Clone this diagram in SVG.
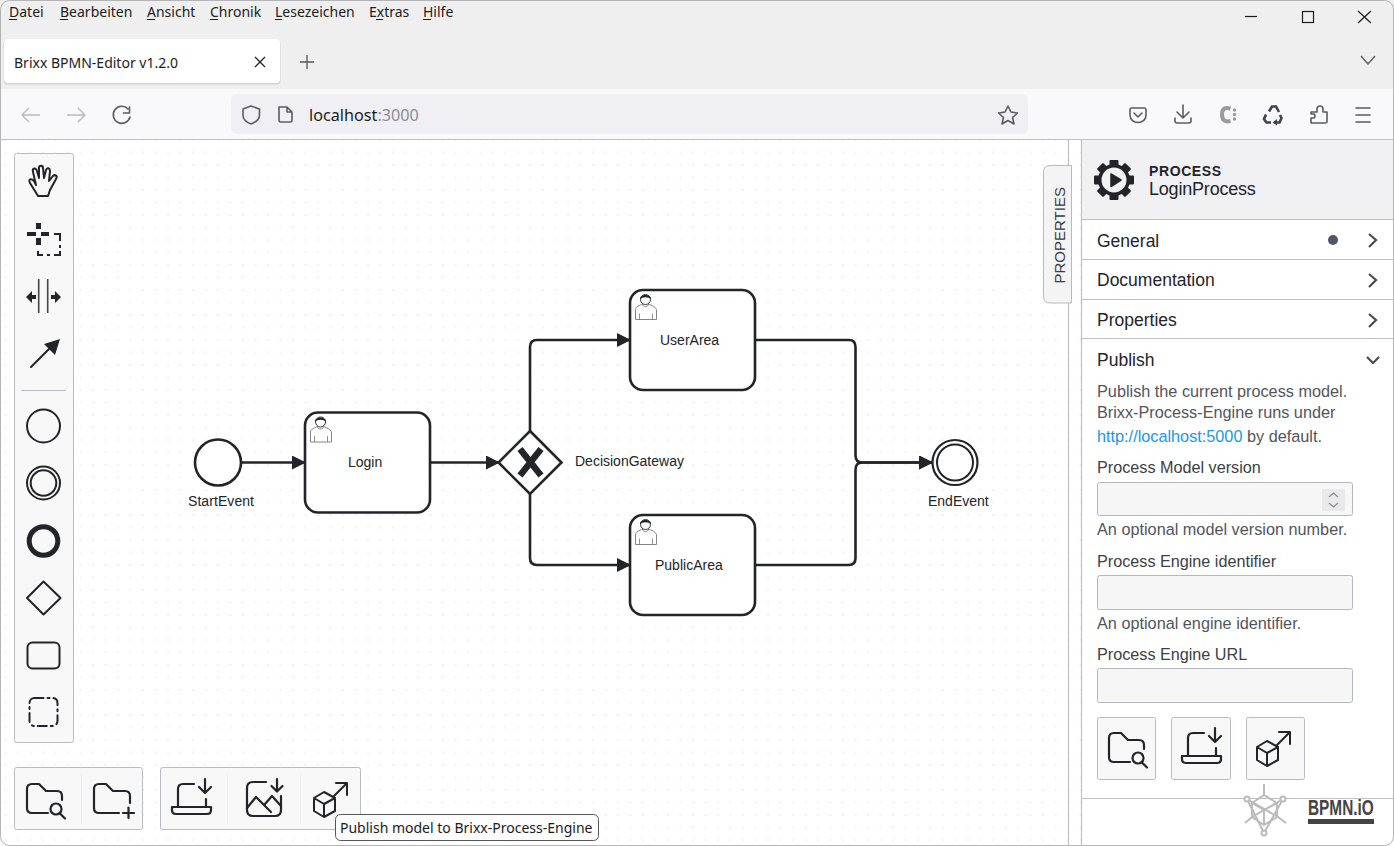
<svg xmlns="http://www.w3.org/2000/svg" width="1394" height="846" viewBox="0 0 1394 846">
<style>
text{font-family:"Liberation Sans",Arial,sans-serif;fill:#22242a}
.menu{font-family:"Noto Sans","Open Sans",sans-serif;font-size:14px;fill:#1c1c1c}
.lbl{font-size:14px;fill:#22242a}
.head{font-size:17.500px;fill:#22242a}
.desc{font-size:16.250px;fill:#52555c}
.field{font-size:16.200px;fill:#3e4047}
.inp{fill:#f6f6f7;stroke:#b5b7bf;stroke-width:1}
.ln{fill:none;stroke:#22242a;stroke-width:2;stroke-linejoin:round;stroke-linecap:round}
.ic{fill:none;stroke:#22242a;stroke-width:2.200;stroke-linejoin:round;stroke-linecap:round}
.br{fill:none;stroke:#5b5b66;stroke-width:1.600;stroke-linejoin:round;stroke-linecap:round}
.flow{fill:none;stroke:#22242a;stroke-width:2.600;stroke-linejoin:round}
.shape{fill:#fff;stroke:#22242a;stroke-width:2.600}
.user{fill:#fff;stroke:#777;stroke-width:.9}
.sep{stroke:#ececee;stroke-width:1}
.pal{fill:#f8f8f9;stroke:#b9bbc2;stroke-width:1}
.rule{stroke:#bfc0c6;stroke-width:1.200}
.logo{fill:none;stroke:#bbb;stroke-width:2;stroke-linejoin:round}
</style>
<defs>
<pattern id="dots" x="4.500" y="1.500" width="12.500" height="12.500" patternUnits="userSpaceOnUse"><circle cx="1" cy="1" r=".75" fill="#d9dade"/></pattern>
<marker id="arrow" markerUnits="userSpaceOnUse" viewBox="0 0 14 14" refX="13" refY="7" markerWidth="14" markerHeight="14" orient="auto"><path d="M0 0L14 7L0 14Z" fill="#22242a"/></marker>
<g id="u"><path class="user" d="M-10 18V8C-10 5-6 4-3 2.500C-3 6 3 6 3 2.500C6 4 10 5 11 8V18Z"/><path d="M-6 18V12M7 18V12" stroke="#777" stroke-width=".8"/><circle cx="0" cy="-2" r="5" fill="#fff" stroke="#333"/><path d="M-5.500 -2C-6-8 6-8 5.500-2C3-5-3-5-5.500-2Z" fill="#22242a"/></g>
<g id="foldersearch"><path class="ic" d="M21 29H5Q0 29 0 24V5Q0 0 5 0H12L19 7H30Q35 7 35 12V16"/><circle cx="29" cy="25" r="5.500" class="ic"/><path class="ic" d="M33 29.500L38 34.500"/></g>
<g id="laptopdown"><path class="ic" d="M6 23V5Q6 0 11 0H22M34 15V23"/><path class="ic" d="M0 23H39V26Q39 30 35 30H4Q0 30 0 26Z"/><path class="ic" d="M33 -5V9M27 3L33 9L39 3"/></g>
<g id="publish"><path class="ln" d="M-17 -1L-7 -7L4 -1V12L-7 18L-17 12ZM-17 -1L-7 5L4 -1M-7 5V18"/><path class="ln" d="M3 -3L16 -16M5 -16H16V-4"/></g>
</defs>
<rect width="1394" height="846" fill="#efeff0"/>
<rect x="1" y="89" width="1392" height="51" fill="#f9f9fb"/>
<rect x="0" y="140" width="1394" height="706" fill="#fff"/>
<rect x="1" y="140" width="1080" height="705" fill="url(#dots)"/>
<rect x="0.500" y="0.500" width="1393" height="845" rx="9" fill="none" stroke="#b4b4b6"/>
<path class="rule" d="M0 139.500H1394M1068.500 140V846M1081.500 140V846"/>
<g id="browser-menu">
<text class="menu" x="9" y="17">Datei</text><path d="M9 19.500H17" stroke="#1c1c1c"/>
<text class="menu" x="60" y="17">Bearbeiten</text><path d="M60 19.500H68" stroke="#1c1c1c"/>
<text class="menu" x="147" y="17">Ansicht</text><path d="M147 19.500H155" stroke="#1c1c1c"/>
<text class="menu" x="210" y="17">Chronik</text><path d="M210 19.500H218" stroke="#1c1c1c"/>
<text class="menu" x="275" y="17">Lesezeichen</text><path d="M275 19.500H282" stroke="#1c1c1c"/>
<text class="menu" x="369" y="17">Extras</text><path d="M376 19.500H383" stroke="#1c1c1c"/>
<text class="menu" x="423" y="17">Hilfe</text><path d="M423 19.500H431" stroke="#1c1c1c"/>
</g>
<g id="window-controls" fill="none" stroke="#1c1c1c" stroke-width="1.200"><path d="M1245 16.500H1257"/><rect x="1302.500" y="11.500" width="11" height="11"/><path d="M1358 11L1371 23M1371 11L1358 23"/><path d="M1361 56L1368 64L1375 56" stroke="#5b5b66" stroke-width="1.400"/></g>
<g id="tab"><rect x="3.500" y="39.500" width="277" height="45" rx="4" fill="#c9c9cb" opacity=".7"/><rect x="4" y="39" width="276" height="44" rx="4" fill="#fff"/>
<text class="menu" x="14" y="68">Brixx BPMN-Editor v1.2.0</text>
<path d="M255 57L265 67M265 57L255 67" stroke="#222" stroke-width="1.300" fill="none"/><path d="M300 62H314M307 55V69" stroke="#555" stroke-width="1.300"/></g>
<g id="toolbar">
<rect x="231" y="94" width="797" height="40" rx="6" fill="#f0f0f4"/>
<path d="M22 115H40M22 115L29 108M22 115L29 122M67 115H85M85 115L78 108M85 115L78 122" stroke="#b9b9bc" stroke-width="1.300" fill="none"/>
<path class="br" d="M128 109A8.500 8.500 0 1 0 130 117M129.500 107V113H123.500"/>
<path class="br" d="M251 106L259.500 109V115C259.500 120 255 122.500 251 124C247 122.500 243 120 243 115V109Z"/>
<path class="br" d="M279 107H287L292 112V120Q292 122 290 122H281Q279 122 279 120ZM287 107V112H292"/>
<text class="menu" x="309" y="121" style="font-size:16.200px">localhost<tspan style="fill:#8b8b91">:3000</tspan></text>
<path class="br" d="M1008 106L1011 112L1017.500 113L1012.500 117.500L1014 124L1008 120.500L1002 124L1003.500 117.500L998.500 113L1005 112Z"/>
<path class="br" d="M1131 108H1145Q1146 108 1146 110V115C1146 125 1130 125 1130 115V110Q1130 108 1131 108ZM1134 113L1138 117L1142 113"/>
<path class="br" d="M1183 105V118M1177 112L1183 118L1189 112M1175 118V121Q1175 123 1177 123H1189Q1191 123 1191 121V118"/>
<path d="M1230.500 108.500Q1222 106 1222 114.500Q1222 123 1230.500 121" fill="none" stroke="#9a9a9e" stroke-width="4"/><circle cx="1234.500" cy="110" r="1.700" fill="#9a9a9e"/><circle cx="1234.500" cy="114.500" r="1.700" fill="#9a9a9e"/><circle cx="1234.500" cy="119" r="1.700" fill="#9a9a9e"/>
<path d="M1269 111.500L1272 106.500L1276 106.500L1279 112M1266 114.500L1264 119L1266.500 122.500H1271M1275 122.500H1279.500L1281.500 118L1280 115" fill="none" stroke="#3d4350" stroke-width="2.600"/>
<path d="M1277 119V125.500L1272.500 122.500Z" fill="#3d4350"/>
<path class="br" d="M1311 112H1317V109A3 3 0 0 1 1323 109V112H1327V122Q1327 123 1325 123H1311V118H1314A2.500 2.500 0 0 0 1314 114H1311Z"/>
<path class="br" d="M1356 108H1370M1356 115H1370M1356 122H1370"/>
</g>
<g id="tool-palette">
<rect class="pal" x="14.500" y="153.500" width="59" height="589" rx="2"/>
<path class="ln" d="M38 196L30 183C28 179 31 178 34 181L36 185L33 172C32 168 36 167 37 171L39 178L39 168C39 165 43 165 43 168L44 178L46 170C47 167 50 168 50 171L49 181L53 176C55 174 58 176 56 179L50 190L48 196Z"/>
<path d="M36 223H41V229H36ZM36 238H41V245H36ZM27 232H36V236H27ZM41 232H49V236H41Z" fill="#22242a"/>
<path d="M54 234H60V241M60 245V248M60 251V255H54M50 255H47M43 255H38V251" fill="none" stroke="#22242a" stroke-width="2"/>
<path d="M38.700 279V313M47.700 279V313" stroke="#444" stroke-width="1.600"/>
<path d="M26 297L32 291V295H36V299H32V303ZM61 297L55 291V295H51V299H55V303Z" fill="#22242a"/>
<path class="ln" d="M31 367L51 347"/><path d="M60 339L44 344L55 355Z" fill="#22242a"/>
<path d="M21.500 390.500H66" stroke="#b9bbc2"/>
<circle class="ln" cx="43.500" cy="426" r="16.500"/>
<circle class="ln" cx="43.500" cy="483" r="16.500"/><circle class="ln" cx="43.500" cy="483" r="12.800" stroke-width="1.600"/>
<circle cx="43.500" cy="541" r="14.300" fill="none" stroke="#22242a" stroke-width="5"/>
<path class="ln" d="M43.500 581.500L60.500 598L43.500 614.500L27 598Z"/>
<rect class="ln" x="27.500" y="642.500" width="32" height="26" rx="5"/>
<rect class="ln" x="29.500" y="698" width="28" height="28" rx="5" stroke-dasharray="9 4 2 4" stroke-linecap="butt"/>
</g>
<g id="bottom-file-tools">
<rect class="pal" x="14.500" y="767.500" width="128" height="62" rx="2"/>
<path class="sep" d="M81.500 774V824"/>
<use href="#foldersearch" x="27" y="784"/>
<path class="ic" d="M119 813H99Q94 813 94 808V789Q94 784 99 784H106L113 791H125Q130 791 130 796V803M123 813H134M128.500 807.500V818"/>
<rect class="pal" x="160.500" y="767.500" width="200" height="62" rx="2"/>
<path class="sep" d="M227.500 774V824M300.500 774V824"/>
<use href="#laptopdown" x="172" y="784"/>
<path class="ic" d="M266 782H253Q247 782 247 788V810Q247 816 253 816H275Q281 816 281 810V796"/>
<path class="ic" d="M247 808L256 797L271 812M265 804L272 796L281 806M277 779V791M271.500 786L277 791.500L282.500 786"/>
<use href="#publish" transform="translate(331 799)"/>
</g>
<g id="tooltip"><rect x="335.500" y="814.500" width="263" height="26" rx="5" fill="#fdfdfe" stroke="#55565c"/><text x="340" y="833" class="menu">Publish model to Brixx-Process-Engine</text></g>
<g id="properties-tab"><path d="M1071.500 303V165.500H1050Q1043.500 165.500 1043.500 172V296.500Q1043.500 303 1050 303Z" fill="#f4f4f5" stroke="#b8b9c0"/><text transform="translate(1065 283.500) rotate(-90)" style="font-size:15px;fill:#3a3a40">PROPERTIES</text></g>
<g id="connectors">
<path class="flow" d="M241 462.500H305" marker-end="url(#arrow)"/>
<path class="flow" d="M430 462.500H499" marker-end="url(#arrow)"/>
<path class="flow" d="M530 431V347Q530 340 537 340H630" marker-end="url(#arrow)"/>
<path class="flow" d="M530 494V558Q530 565 537 565H630" marker-end="url(#arrow)"/>
<path class="flow" d="M755 340H849Q855.500 340 855.500 347V455Q855.500 462.500 862 462.500H932" marker-end="url(#arrow)"/>
<path class="flow" d="M755 565H849Q855.500 565 855.500 558V470Q855.500 462.500 862 462.500H932" marker-end="url(#arrow)"/>
</g>
<g id="StartEvent"><circle class="shape" cx="218" cy="462.500" r="23"/><text class="lbl" x="188" y="506" textLength="66">StartEvent</text></g>
<g id="Login"><rect class="shape" x="305" y="412.500" width="125" height="100" rx="13"/><use href="#u" x="320.500" y="424"/><text class="lbl" x="348" y="467">Login</text></g>
<g id="DecisionGateway"><path class="shape" d="M530 431L561.500 462.500L530 494L498.500 462.500Z"/><path d="M520 449L541 475.500M541 449L520 475.500" fill="none" stroke="#22242a" stroke-width="6.500"/><text class="lbl" x="575" y="466">DecisionGateway</text></g>
<g id="UserArea"><rect class="shape" x="630" y="290" width="125" height="100" rx="13"/><use href="#u" x="645.500" y="301.500"/><text class="lbl" x="660" y="345">UserArea</text></g>
<g id="PublicArea"><rect class="shape" x="630" y="515" width="125" height="100" rx="13"/><use href="#u" x="645.500" y="526.500"/><text class="lbl" x="655" y="570">PublicArea</text></g>
<g id="EndEvent"><circle class="shape" cx="955" cy="462.500" r="22.500" style="stroke-width:2.200"/><circle cx="955" cy="462.500" r="18" fill="#fff" stroke="#22242a" stroke-width="2"/><text class="lbl" x="928" y="506">EndEvent</text></g>
<g id="properties-panel">
<rect x="1082" y="140" width="311" height="80" fill="#f1f1f3"/>
<g fill="#22242a"><circle cx="1114" cy="180" r="16"/><rect x="1109.500" y="160" width="9" height="40" rx="1"/><rect x="1094" y="175.500" width="40" height="9" rx="1"/><rect x="1109.500" y="160" width="9" height="40" rx="1" transform="rotate(45 1114 180)"/><rect x="1109.500" y="160" width="9" height="40" rx="1" transform="rotate(-45 1114 180)"/></g>
<circle cx="1114" cy="180" r="12.500" fill="#f1f1f3"/>
<path d="M1111 174V186.500L1121 180Z" fill="#22242a" stroke="#22242a" stroke-width="1.500" stroke-linejoin="round"/>
<text x="1149" y="176" style="font-size:14px;font-weight:700;letter-spacing:.6px">PROCESS</text>
<text x="1149" y="195" style="font-size:18px;letter-spacing:-.2px">LoginProcess</text>
<path class="rule" d="M1082 219.500H1394M1082 259.500H1394M1082 299.500H1394M1082 338.500H1394M1082 798.500H1394"/>
<text class="head" x="1097" y="247">General</text><circle cx="1333" cy="240" r="5" fill="#52566a"/>
<text class="head" x="1097" y="286">Documentation</text>
<text class="head" x="1097" y="326">Properties</text>
<text class="head" x="1097" y="366">Publish</text>
<path d="M1369 234L1376 240L1369 247M1369 274L1376 280L1369 287M1369 314L1376 320L1369 327M1367 357L1373 363L1379 357" fill="none" stroke="#494b55" stroke-width="2.200"/>
<text class="desc" x="1097" y="397">Publish the current process model.</text>
<text class="desc" x="1097" y="418">Brixx-Process-Engine runs under</text>
<text class="desc" x="1097" y="442"><tspan style="fill:#1c97e3">http://localhost:5000</tspan> by default.</text>
<text class="field" x="1097" y="473">Process Model version</text>
<rect class="inp" x="1097.500" y="482.500" width="255" height="33" rx="2"/>
<rect x="1322" y="489" width="23" height="22" fill="#e9e9ed"/><path d="M1329 497L1333.500 493L1338 497M1329 503L1333.500 507L1338 503" fill="none" stroke="#8a8b92" stroke-width="1.300"/>
<text class="desc" x="1097" y="535">An optional model version number.</text>
<text class="field" x="1097" y="567">Process Engine identifier</text>
<rect class="inp" x="1097.500" y="575.500" width="255" height="34" rx="2"/>
<text class="desc" x="1097" y="629">An optional engine identifier.</text>
<text class="field" x="1097" y="660">Process Engine URL</text>
<rect class="inp" x="1097.500" y="668.500" width="255" height="34" rx="2"/>
<rect class="pal" x="1097.500" y="717.500" width="58" height="62" rx="2"/>
<rect class="pal" x="1171.500" y="717.500" width="59" height="62" rx="2"/>
<rect class="pal" x="1246.500" y="717.500" width="58" height="62" rx="2"/>
<use href="#foldersearch" x="1109" y="733"/>
<use href="#laptopdown" x="1182" y="733"/>
<use href="#publish" transform="translate(1274 748)"/>
</g>
<g id="bpmn-io-logo">
<path class="logo" d="M1264 784V795L1277 803V817L1264 825L1252 817V803L1264 795M1252 803L1264 810L1277 803M1264 810V825M1247 799L1264 833M1283 799L1264 833M1247 799L1278 817M1283 799L1252 817M1245 823L1252 817M1286 823L1278 817"/>
<g fill="#fff" stroke="#bbb" stroke-width="2"><circle cx="1247" cy="799" r="2.500"/><circle cx="1283" cy="799" r="2.500"/><circle cx="1264" cy="833" r="2.500"/></g>
<text transform="translate(1308 815) scale(.7 1)" style="font-size:22px;font-weight:700;fill:#444">BPMN.iO</text>
<rect x="1308" y="819" width="66" height="5" fill="#444"/>
</g>
</svg>
